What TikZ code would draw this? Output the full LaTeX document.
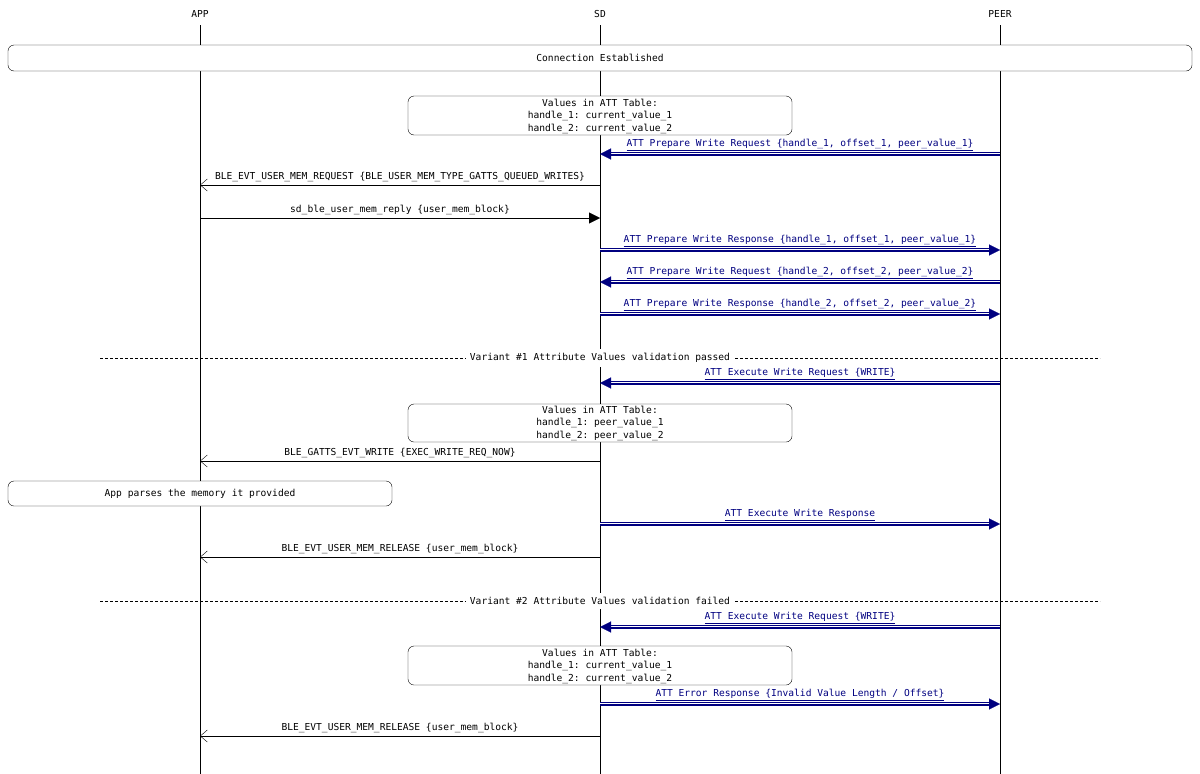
\documentclass[tikz,border=0pt]{standalone}
\usepackage{fontspec}
\setmonofont{DejaVu Sans Mono}
\usetikzlibrary{arrows.meta,positioning,calc}
\definecolor{attblue}{RGB}{0,0,128}
\newcommand{\att}[1]{\underline{#1}}
% double navy message between two named points
\newcommand{\attmsg}[3]{%
  \draw[attblue, line width=3.2pt, shorten >=9pt] (#1) -- (#2);
  \draw[white, line width=1.2pt, shorten >=9pt] (#1) -- (#2);
  \draw[attblue, line width=0.1pt, -{Triangle[length=11pt,width=11pt]}] (#1) -- (#2)
      node[attlabel, midway] {\att{#3}};}

\begin{document}
\begin{tikzpicture}[x=1pt, y=-1pt,
            every node/.style={font=\ttfamily\fontsize{9.6}{12.5}\selectfont, inner sep=1pt},
            lifeline/.style={draw, thin},
            note/.style={draw, rounded corners=6pt, thin},
            sig/.style={thin, -{Straight Barb[length=7pt,width=12pt]}},
            call/.style={thin, -{Triangle[length=11pt,width=11pt]}},
            attlabel/.style={text=attblue, above=2pt},
            plain/.style={above=2pt},
            divider/.style={densely dashed, thin}]
        \useasboundingbox (0,0) rectangle (1200,774);
        % lifelines
        \foreach \name/\x/\txt in {app/200/APP, sd/600/SD, peer/1000/PEER} {
            \node (\name) at (\x,14) {\txt};
            \coordinate (\name top) at (\x,25);
            \coordinate (\name bot) at (\x,774);
            \draw[lifeline] (\name top) -- (\name bot);
        }
        % connection box
        \draw[note, fill=white] (8,45) rectangle (1192,71);
        \node (conn) at (600,58) {Connection Established};
        % table 1
        \draw[note, fill=white] (408,96) rectangle (792,135);
        \node[align=center] (tab1) at (600,116) {Values in ATT Table:\\handle\_1: current\_value\_1\\handle\_2: current\_value\_2};
        % prepare writes
        \coordinate (p1) at (1000,154); \coordinate (s1) at (600,154);
        \attmsg{p1}{s1}{ATT Prepare Write Request \{handle\_1, offset\_1, peer\_value\_1\}}
        \coordinate (s2) at (600,185); \coordinate (a2) at (200,185);
        \draw[sig] (s2) -- (a2) node[plain, midway] {BLE\_EVT\_USER\_MEM\_REQUEST \{BLE\_USER\_MEM\_TYPE\_GATTS\_QUEUED\_WRITES\}};
        \coordinate (a3) at (200,218); \coordinate (s3) at (600,218);
        \draw[call] (a3) -- (s3) node[plain, midway] {sd\_ble\_user\_mem\_reply \{user\_mem\_block\}};
        \coordinate (s4) at (600,250); \coordinate (p4) at (1000,250);
        \attmsg{s4}{p4}{ATT Prepare Write Response \{handle\_1, offset\_1, peer\_value\_1\}}
        \coordinate (p5) at (1000,282); \coordinate (s5) at (600,282);
        \attmsg{p5}{s5}{ATT Prepare Write Request \{handle\_2, offset\_2, peer\_value\_2\}}
        \coordinate (s6) at (600,314); \coordinate (p6) at (1000,314);
        \attmsg{s6}{p6}{ATT Prepare Write Response \{handle\_2, offset\_2, peer\_value\_2\}}
        % variant 1
        \coordinate (d1l) at (100,358); \coordinate (d1r) at (1100,358);
        \draw[divider] (d1l) -- (d1r);
        \node[fill=white, inner sep=4pt] (var1) at (600,358) {Variant \#1 Attribute Values validation passed};
        \coordinate (p7) at (1000,383); \coordinate (s7) at (600,383);
        \attmsg{p7}{s7}{ATT Execute Write Request \{WRITE\}}
        \draw[note, fill=white] (408,404) rectangle (792,442);
        \node[align=center] (tab2) at (600,423) {Values in ATT Table:\\handle\_1: peer\_value\_1\\handle\_2: peer\_value\_2};
        \coordinate (s8) at (600,461); \coordinate (a8) at (200,461);
        \draw[sig] (s8) -- (a8) node[plain, midway] {BLE\_GATTS\_EVT\_WRITE \{EXEC\_WRITE\_REQ\_NOW\}};
        \draw[note, fill=white] (8,481) rectangle (392,506);
        \node (parse) at (200,494) {App parses the memory it provided};
        \coordinate (s9) at (600,524); \coordinate (p9) at (1000,524);
        \attmsg{s9}{p9}{ATT Execute Write Response}
        \coordinate (s10) at (600,557); \coordinate (a10) at (200,557);
        \draw[sig] (s10) -- (a10) node[plain, midway] {BLE\_EVT\_USER\_MEM\_RELEASE \{user\_mem\_block\}};
        % variant 2
        \coordinate (d2l) at (100,601); \coordinate (d2r) at (1100,601);
        \draw[divider] (d2l) -- (d2r);
        \node[fill=white, inner sep=4pt] (var2) at (600,601) {Variant \#2 Attribute Values validation failed};
        \coordinate (p11) at (1000,627); \coordinate (s11) at (600,627);
        \attmsg{p11}{s11}{ATT Execute Write Request \{WRITE\}}
        \draw[note, fill=white] (408,646) rectangle (792,685);
        \node[align=center] (tab3) at (600,666) {Values in ATT Table:\\handle\_1: current\_value\_1\\handle\_2: current\_value\_2};
        \coordinate (s12) at (600,704); \coordinate (p12) at (1000,704);
        \attmsg{s12}{p12}{ATT Error Response \{Invalid Value Length / Offset\}}
        \coordinate (s13) at (600,736); \coordinate (a13) at (200,736);
        \draw[sig] (s13) -- (a13) node[plain, midway] {BLE\_EVT\_USER\_MEM\_RELEASE \{user\_mem\_block\}};
\end{tikzpicture}
\end{document}
